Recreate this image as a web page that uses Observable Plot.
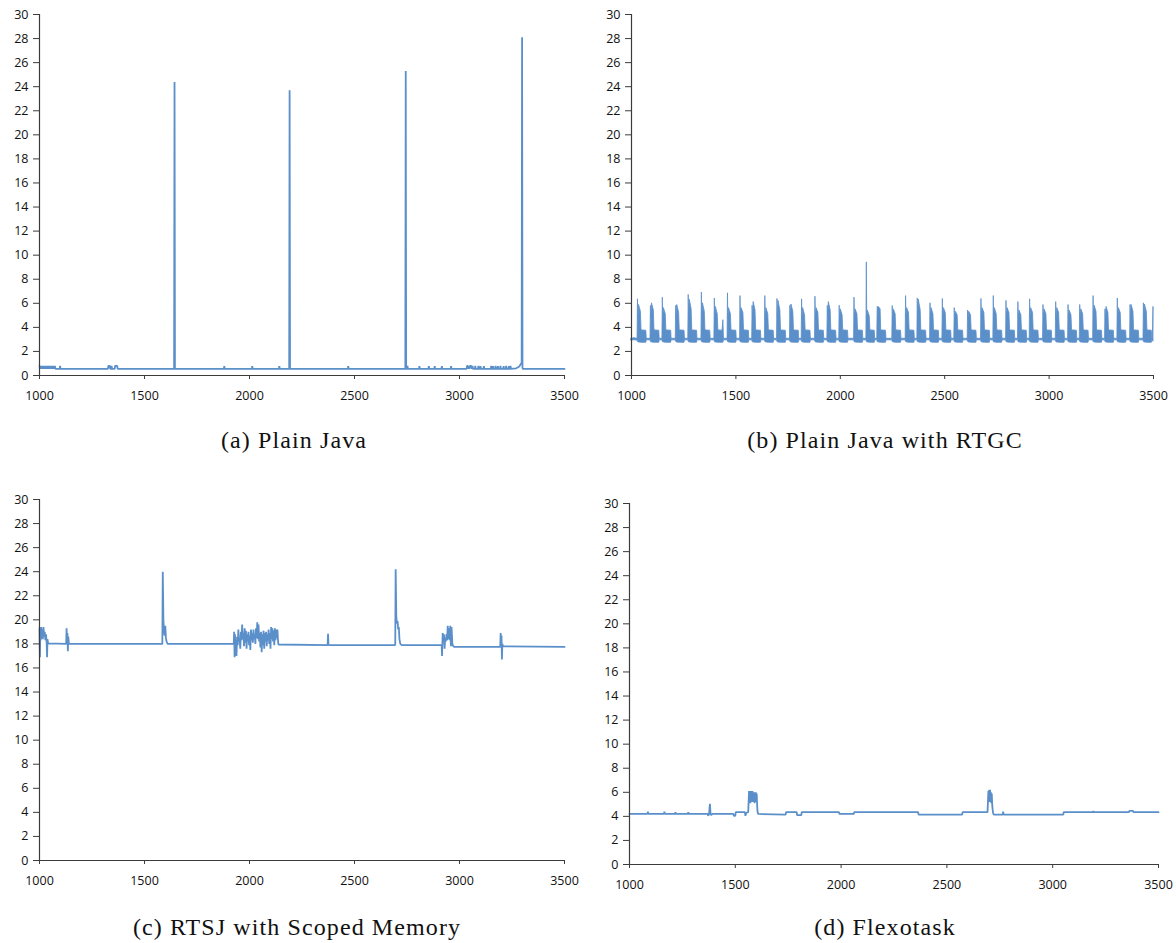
<!DOCTYPE html>
<html><head><meta charset="utf-8">
<script src="https://cdn.jsdelivr.net/npm/d3@7"></script>
<script src="https://cdn.jsdelivr.net/npm/@observablehq/plot@0.6"></script>
<style>
body{margin:0;background:#fff;}
#root{position:relative;width:1176px;height:943px;overflow:hidden;background:#fff;}
.panel{position:absolute;}
.cap{position:absolute;font-family:"Liberation Serif","Times New Roman",serif;font-size:24px;letter-spacing:1.1px;color:#111;white-space:nowrap;transform:translate(-50%,-50%);}
</style></head><body><div id="root"></div>
<script>
const xTicks = [1000, 1500, 2000, 2500, 3000, 3500];
const yTicks = [0, 2, 4, 6, 8, 10, 12, 14, 16, 18, 20, 22, 24, 26, 28, 30];
const captions = ["(a) Plain Java", "(b) Plain Java with RTGC", "(c) RTSJ with Scoped Memory", "(d) Flexotask"];

// (a) Plain Java: [x, value]
const plainJava = [
[1000,0.8],[1003,0.55],[1006,0.8],[1009,0.55],[1012,0.8],[1015,0.55],[1018,0.8],[1021,0.55],[1024,0.8],[1027,0.55],
[1031,0.8],[1034,0.55],[1038,0.8],[1041,0.55],[1045,0.8],[1048,0.55],[1052,0.8],[1055,0.55],[1059,0.8],[1062,0.55],
[1066,0.8],[1069,0.55],[1073,0.8],[1076,0.55],[1096,0.55],[1098,0.8],[1100,0.55],
[1326,0.55],[1328,0.8],[1335,0.8],[1337,0.55],[1341,0.55],[1343,0.8],[1346,0.55],[1358,0.55],[1360,0.8],[1370,0.8],[1372,0.55],
[1641,0.55],[1643,24.4],[1645,0.55],[1878,0.55],[1880,0.78],[1882,0.55],[2011,0.55],[2013,0.78],[2015,0.55],
[2140,0.55],[2142,0.78],[2144,0.55],[2189,0.55],[2191,23.7],[2193,0.55],[2468,0.55],[2470,0.78],[2472,0.55],
[2742,0.55],[2744,25.3],[2746,0.55],[2750,0.55],[2752,0.8],[2754,0.55],[2807,0.55],[2809,0.78],[2811,0.55],
[2852,0.55],[2854,0.78],[2856,0.55],[2880,0.55],[2882,0.78],[2884,0.55],[2914,0.55],[2916,0.78],[2918,0.55],
[2958,0.55],[2960,0.78],[2962,0.55],[3034,0.55],[3036,0.8],[3040,0.8],[3042,0.55],[3044,0.8],[3047,0.55],
[3050,0.8],[3056,0.8],[3058,0.55],[3062,0.8],[3064,0.55],[3073,0.55],[3075,0.8],[3077,0.55],[3088,0.55],[3090,0.8],[3092,0.55],
[3098,0.55],[3100,0.78],[3102,0.55],[3114,0.55],[3116,0.78],[3118,0.55],[3149,0.55],[3151,0.8],[3153,0.55],
[3158,0.55],[3160,0.78],[3162,0.55],[3170,0.55],[3172,0.8],[3174,0.55],[3181,0.55],[3183,0.78],[3185,0.55],
[3193,0.55],[3195,0.8],[3197,0.55],[3208,0.55],[3210,0.78],[3212,0.55],[3220,0.55],[3222,0.8],[3224,0.55],
[3233,0.55],[3235,0.78],[3237,0.55],[3241,0.55],[3243,0.8],[3245,0.55],[3270,0.6],[3285,0.75],[3292,0.95],
[3296,1.05],[3298,28.1],[3300,0.6],[3302,0.55],[3500,0.55]
];

// (b) Plain Java with RTGC: dense trace read as [x, low, high] envelope
const rtgcBand = [
[1000,2.9,3.05],[1014,2.93,3.1],[1027,2.9,3.05],
[1029,2.92,3.05],[1031,2.8,6.33],[1033,2.75,4.7],[1036,2.75,5.86],[1045,2.72,5.3],[1048,2.72,3.75],[1071,2.72,3.72],[1073,2.92,3.05],
[1091,2.92,3.05],[1093,2.8,5.78],[1095,2.75,4.8],[1098,2.75,6.0],[1107,2.72,5.4],[1110,2.72,3.75],[1133,2.72,3.72],[1135,2.92,3.05],
[1148,2.92,3.05],[1150,2.8,6.47],[1152,2.75,4.6],[1155,2.75,5.6],[1164,2.72,5.1],[1167,2.72,3.75],[1190,2.72,3.72],[1192,2.92,3.05],
[1212,2.92,3.05],[1214,2.8,5.78],[1216,2.75,4.7],[1219,2.75,5.86],[1228,2.72,5.2],[1231,2.72,3.75],[1254,2.72,3.72],[1256,2.92,3.05],
[1272,2.92,3.05],[1274,2.8,6.7],[1276,2.75,4.9],[1279,2.75,6.3],[1288,2.72,5.5],[1291,2.72,3.75],[1314,2.72,3.72],[1316,2.92,3.05],
[1335,2.92,3.05],[1337,2.8,6.9],[1339,2.75,4.7],[1342,2.75,6.0],[1351,2.72,5.3],[1354,2.72,3.75],[1377,2.72,3.72],[1379,2.92,3.05],
[1397,2.92,3.05],[1399,2.8,6.4],[1401,2.75,4.6],[1404,2.75,5.7],[1413,2.72,5.1],[1416,2.72,3.75],[1436,2.72,3.72],[1440,2.72,4.6],[1443,2.92,3.05],
[1460,2.92,3.05],[1462,2.8,6.83],[1464,2.75,4.7],[1467,2.75,5.6],[1476,2.72,5.1],[1479,2.72,3.75],[1502,2.72,3.72],[1504,2.92,3.05],
[1520,2.92,3.05],[1522,2.8,6.6],[1524,2.75,4.8],[1527,2.75,5.6],[1536,2.72,5.2],[1539,2.72,3.75],[1562,2.72,3.72],[1564,2.92,3.05],
[1578,2.92,3.05],[1580,2.8,5.8],[1582,2.75,4.7],[1585,2.75,6.1],[1594,2.72,5.4],[1597,2.72,3.75],[1620,2.72,3.72],[1622,2.92,3.05],
[1639,2.92,3.05],[1641,2.8,6.6],[1643,2.75,4.6],[1646,2.75,5.6],[1655,2.72,5.1],[1658,2.72,3.75],[1681,2.72,3.72],[1683,2.92,3.05],
[1697,2.92,3.05],[1699,2.8,6.36],[1701,2.75,4.8],[1704,2.75,6.2],[1713,2.72,5.4],[1716,2.72,3.75],[1739,2.72,3.72],[1741,2.92,3.05],
[1759,2.92,3.05],[1761,2.8,5.8],[1763,2.75,4.7],[1766,2.75,5.9],[1775,2.72,5.3],[1778,2.72,3.75],[1801,2.72,3.72],[1803,2.92,3.05],
[1815,2.92,3.05],[1817,2.8,6.33],[1819,2.75,4.6],[1822,2.75,5.6],[1831,2.72,5.0],[1834,2.72,3.75],[1857,2.72,3.72],[1859,2.92,3.05],
[1879,2.92,3.05],[1881,2.8,6.55],[1883,2.75,4.7],[1886,2.75,5.6],[1895,2.72,5.2],[1898,2.72,3.75],[1921,2.72,3.72],[1923,2.92,3.05],
[1938,2.92,3.05],[1940,2.8,5.78],[1942,2.75,4.8],[1945,2.75,6.1],[1954,2.72,5.4],[1957,2.72,3.75],[1980,2.72,3.72],[1982,2.92,3.05],
[1995,2.92,3.05],[1997,2.8,5.8],[1999,2.75,4.6],[2002,2.75,5.5],[2011,2.72,5.0],[2014,2.72,3.75],[2037,2.72,3.72],[2039,2.92,3.05],
[2066,2.92,3.05],[2068,2.8,6.47],[2070,2.75,4.7],[2073,2.75,5.5],[2082,2.72,5.1],[2085,2.72,3.75],[2108,2.72,3.72],[2110,2.92,3.05],
[2125,2.92,3.05],[2127,2.8,9.4],[2129,2.75,4.7],[2132,2.75,5.4],[2141,2.72,4.9],[2144,2.72,3.75],[2165,2.72,3.72],[2167,2.92,3.05],
[2177,2.92,3.05],[2179,2.8,5.7],[2181,2.75,5.6],[2184,2.75,5.7],[2193,2.72,5.5],[2196,2.72,3.75],[2219,2.72,3.72],[2221,2.92,3.05],
[2249,2.92,3.05],[2251,2.8,5.78],[2253,2.75,4.7],[2256,2.75,5.5],[2265,2.72,5.1],[2268,2.72,3.75],[2291,2.72,3.72],[2293,2.92,3.05],
[2313,2.92,3.05],[2315,2.8,6.6],[2317,2.75,4.8],[2320,2.75,5.6],[2329,2.72,5.2],[2332,2.72,3.75],[2355,2.72,3.72],[2357,2.92,3.05],
[2369,2.92,3.05],[2371,2.8,6.4],[2373,2.75,4.7],[2376,2.75,6.3],[2385,2.72,5.4],[2388,2.72,3.75],[2411,2.72,3.72],[2413,2.92,3.05],
[2430,2.92,3.05],[2432,2.8,6.0],[2434,2.75,4.6],[2437,2.75,5.6],[2446,2.72,5.1],[2449,2.72,3.75],[2472,2.72,3.72],[2474,2.92,3.05],
[2489,2.92,3.05],[2491,2.8,6.36],[2493,2.75,4.7],[2496,2.75,5.6],[2505,2.72,5.2],[2508,2.72,3.75],[2531,2.72,3.72],[2533,2.92,3.05],
[2546,2.92,3.05],[2548,2.8,5.6],[2550,2.75,4.6],[2553,2.75,5.3],[2562,2.72,5.0],[2565,2.72,3.75],[2588,2.72,3.72],[2590,2.92,3.05],
[2610,2.92,3.05],[2612,2.8,5.4],[2614,2.75,4.7],[2617,2.75,5.3],[2626,2.72,5.0],[2629,2.72,3.75],[2652,2.72,3.72],[2654,2.92,3.05],
[2674,2.92,3.05],[2676,2.8,6.36],[2678,2.75,4.8],[2681,2.75,5.6],[2690,2.72,5.2],[2693,2.72,3.75],[2716,2.72,3.72],[2718,2.92,3.05],
[2733,2.92,3.05],[2735,2.8,6.6],[2737,2.75,4.7],[2740,2.75,5.6],[2749,2.72,5.1],[2752,2.72,3.75],[2775,2.72,3.72],[2777,2.92,3.05],
[2794,2.92,3.05],[2796,2.8,6.2],[2798,2.75,4.6],[2801,2.75,5.6],[2810,2.72,5.2],[2813,2.72,3.75],[2836,2.72,3.72],[2838,2.92,3.05],
[2851,2.92,3.05],[2853,2.8,6.1],[2855,2.75,4.7],[2858,2.75,5.4],[2867,2.72,5.0],[2870,2.72,3.75],[2893,2.72,3.72],[2895,2.92,3.05],
[2907,2.92,3.05],[2909,2.8,6.33],[2911,2.75,4.8],[2914,2.75,5.6],[2923,2.72,5.2],[2926,2.72,3.75],[2949,2.72,3.72],[2951,2.92,3.05],
[2971,2.92,3.05],[2973,2.8,5.86],[2975,2.75,4.7],[2978,2.75,5.5],[2987,2.72,5.1],[2990,2.72,3.75],[3013,2.72,3.72],[3015,2.92,3.05],
[3032,2.92,3.05],[3034,2.8,6.1],[3036,2.75,4.6],[3039,2.75,5.6],[3048,2.72,5.2],[3051,2.72,3.75],[3074,2.72,3.72],[3076,2.92,3.05],
[3091,2.92,3.05],[3093,2.8,5.86],[3095,2.75,4.7],[3098,2.75,5.4],[3107,2.72,5.0],[3110,2.72,3.75],[3133,2.72,3.72],[3135,2.92,3.05],
[3147,2.92,3.05],[3149,2.8,5.86],[3151,2.75,4.8],[3154,2.75,5.5],[3163,2.72,5.1],[3166,2.72,3.75],[3189,2.72,3.72],[3191,2.92,3.05],
[3211,2.92,3.05],[3213,2.8,6.6],[3215,2.75,4.7],[3218,2.75,5.8],[3227,2.72,5.3],[3230,2.72,3.75],[3253,2.72,3.72],[3255,2.92,3.05],
[3268,2.92,3.05],[3270,2.8,5.5],[3272,2.75,4.6],[3275,2.75,5.7],[3284,2.72,5.2],[3287,2.72,3.75],[3310,2.72,3.72],[3312,2.92,3.05],
[3327,2.92,3.05],[3329,2.8,6.4],[3331,2.75,4.7],[3334,2.75,5.6],[3343,2.72,5.2],[3346,2.72,3.75],[3369,2.72,3.72],[3371,2.92,3.05],
[3388,2.92,3.05],[3390,2.8,5.86],[3392,2.75,4.8],[3395,2.75,5.86],[3404,2.72,5.3],[3407,2.72,3.75],[3430,2.72,3.72],[3432,2.92,3.05],
[3452,2.92,3.05],[3454,2.8,6.0],[3456,2.75,4.7],[3459,2.75,5.9],[3468,2.72,5.3],[3471,2.72,3.75],[3492,2.72,3.72],[3494,2.92,3.05],
[3497,2.9,3.05],[3500,2.8,5.7]
];

// (c) RTSJ with Scoped Memory: [x, value]
const rtsj = [
[1000,19.3],[1002,16.9],[1004,19.1],[1006,18.3],[1008,19.4],[1011,18.5],[1013,19.2],[1016,18.4],[1019,19.4],[1022,18.6],
[1025,19.0],[1028,18.3],[1031,18.8],[1034,18.1],[1036,16.9],[1038,18.4],[1041,18.05],
[1127,18.0],[1129,19.3],[1131,18.3],[1133,18.9],[1135,17.4],[1137,18.6],[1140,18.0],
[1585,18.0],[1587,24.0],[1590,20.0],[1593,19.0],[1596,18.7],[1599,19.5],[1602,18.5],[1605,18.2],[1610,18.0],
[1925,18.0],[1927,19.0],[1929,16.9],[1931,18.8],[1933,17.2],[1935,18.3],[1938,17.0],[1941,18.6],[1944,17.9],[1947,19.2],
[1950,18.2],[1953,18.5],[1956,17.6],[1959,19.0],[1962,18.3],[1965,19.6],[1968,18.4],[1971,18.9],[1974,17.8],[1977,19.3],
[1980,18.1],[1983,19.1],[1986,17.6],[1989,18.8],[1992,18.2],[1995,19.0],[1998,17.9],[2001,18.7],[2004,17.5],[2007,19.2],
[2010,18.3],[2013,18.9],[2016,18.1],[2019,19.2],[2022,18.4],[2025,18.8],[2028,18.0],[2031,19.3],[2034,18.5],[2037,19.8],
[2040,18.4],[2043,19.6],[2046,18.2],[2049,18.9],[2052,17.7],[2055,19.0],[2058,17.3],[2061,18.8],[2064,17.9],[2067,19.1],
[2070,17.6],[2073,18.9],[2076,18.2],[2079,19.0],[2082,17.8],[2085,18.8],[2088,18.3],[2091,19.2],[2094,18.0],[2097,18.9],
[2100,17.6],[2103,19.4],[2106,18.4],[2109,19.3],[2112,18.2],[2115,19.1],[2118,17.9],[2121,19.3],[2124,18.3],[2127,19.2],
[2130,18.5],[2133,19.2],[2136,18.2],[2138,17.95],
[2372,17.9],[2374,18.85],[2376,17.95],[2378,17.9],
[2694,17.9],[2696,24.2],[2699,20.3],[2702,19.7],[2705,19.9],[2708,19.2],[2711,19.4],[2714,18.4],[2718,18.0],[2725,17.9],
[2915,17.9],[2917,17.0],[2920,18.9],[2923,18.2],[2926,18.8],[2929,17.6],[2932,18.5],[2935,18.2],[2938,18.8],[2941,18.3],
[2944,19.5],[2947,18.4],[2950,19.3],[2953,18.3],[2956,19.5],[2959,17.8],[2962,19.4],[2966,18.0],[2970,17.8],[2976,17.75],
[3194,17.75],[3196,18.9],[3198,18.2],[3200,18.7],[3202,16.7],[3204,18.0],[3207,17.8],[3500,17.75]
];

// (d) Flexotask: [x, value]
const flexotask = [
[1000,4.2],[1085,4.2],[1087,4.4],[1089,4.2],[1163,4.2],[1165,4.4],[1167,4.2],[1215,4.2],[1217,4.35],[1219,4.2],
[1276,4.2],[1278,4.35],[1280,4.2],[1370,4.2],[1372,4.05],[1376,4.2],[1380,5.05],[1383,4.2],[1386,4.1],[1392,4.2],
[1490,4.2],[1494,4.05],[1500,4.05],[1502,4.35],[1545,4.35],[1548,4.05],[1552,4.3],[1561,4.35],
[1565,6.1],[1567,5.2],[1569,6.0],[1571,5.1],[1573,6.1],[1575,5.3],[1577,6.0],[1579,5.2],[1581,6.1],[1583,5.4],
[1585,5.9],[1587,5.2],[1589,6.0],[1591,5.1],[1593,5.9],[1595,5.3],[1597,6.0],[1599,5.2],[1601,5.9],[1603,5.0],
[1605,4.4],[1608,4.2],[1738,4.15],[1740,4.35],[1790,4.35],[1792,4.1],[1812,4.1],[1814,4.35],[1990,4.35],[1992,4.2],
[2060,4.2],[2062,4.35],[2364,4.35],[2366,4.15],[2572,4.15],[2574,4.35],[2692,4.35],
[2694,5.2],[2696,6.1],[2698,5.3],[2700,6.2],[2702,5.2],[2704,6.2],[2706,5.4],[2708,6.0],[2710,5.1],[2712,5.9],
[2714,5.0],[2716,4.6],[2718,4.3],[2721,4.15],[2764,4.15],[2766,4.4],[2768,4.15],[3050,4.15],[3052,4.35],
[3190,4.35],[3192,4.45],[3194,4.35],[3360,4.35],[3362,4.45],[3380,4.45],[3382,4.35],[3500,4.35]
];

const BLUE = "#5b8fca";
const AXIS = "#3c3c3c";

function makePanel({left, top, marginRight, marks}) {
  const svg = Plot.plot({
    width: 580, height: 410,
    marginLeft: 39, marginRight, marginTop: 14, marginBottom: 35,
    style: {fontFamily: "'Open Sans', sans-serif", fontSize: "12.5px", color: "#111", background: "transparent", overflow: "visible"},
    x: {domain: [1000, 3500]},
    y: {domain: [0, 30]},
    marks: [
      ...marks,
      Plot.ruleY([0], {stroke: AXIS, strokeWidth: 1.2}),
      Plot.ruleX([1000], {stroke: AXIS, strokeWidth: 1.2}),
      Plot.axisX(xTicks, {tickSize: 4, tickPadding: 12, stroke: AXIS, tickFormat: d => String(d)}),
      Plot.axisY(yTicks, {tickSize: 6, tickPadding: 5, stroke: AXIS, tickFormat: d => String(d)})
    ]
  });
  const div = document.createElement("div");
  div.className = "panel";
  div.style.left = left + "px";
  div.style.top = top + "px";
  div.appendChild(svg);
  document.getElementById("root").appendChild(div);
}

const lineOf = (data, w) => Plot.lineY(data, {x: d => d[0], y: d => d[1], stroke: BLUE, strokeWidth: w, strokeLinejoin: "miter"});

makePanel({left: 0, top: 0, marginRight: 16, marks: [lineOf(plainJava, 1.8)]});
makePanel({left: 592, top: 0, marginRight: 19, marks: [
  Plot.areaY(rtgcBand, {x: d => d[0], y1: d => d[1], y2: d => d[2], fill: BLUE, stroke: BLUE, strokeWidth: 0.8})
]});
makePanel({left: 0, top: 485, marginRight: 16, marks: [lineOf(rtsj, 1.8)]});
makePanel({left: 590, top: 489, marginRight: 12, marks: [lineOf(flexotask, 1.8)]});

const capPos = [[294, 440], [885, 440], [297, 927], [885, 927]];
captions.forEach((t, i) => {
  const c = document.createElement("div");
  c.className = "cap";
  c.textContent = t;
  c.style.left = capPos[i][0] + "px";
  c.style.top = capPos[i][1] + "px";
  document.getElementById("root").appendChild(c);
});
</script>
</body></html>
